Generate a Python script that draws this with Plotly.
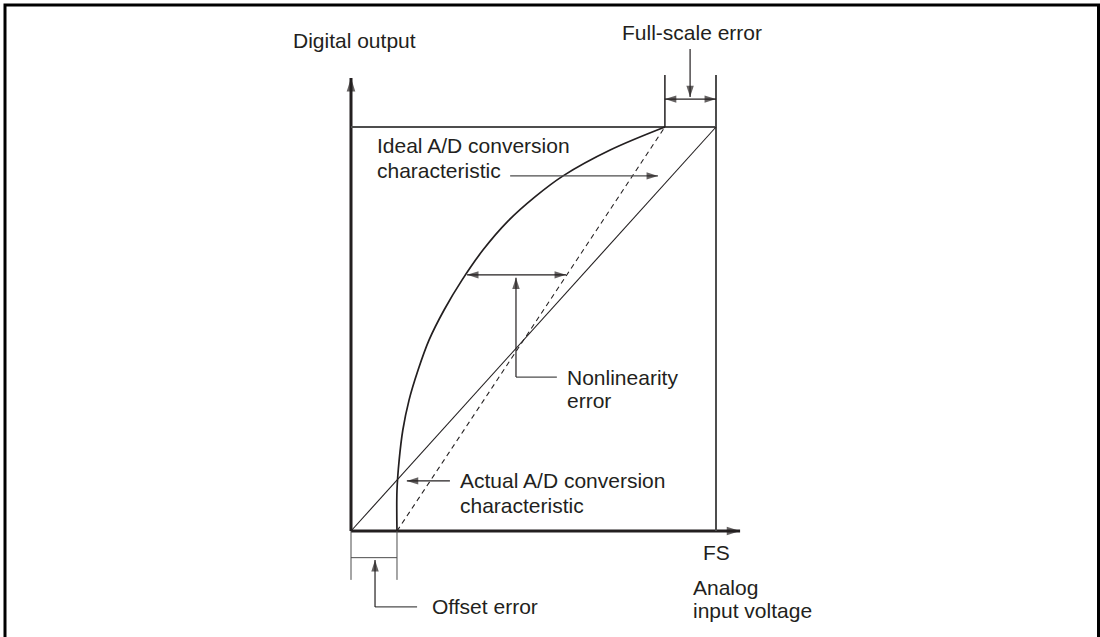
import plotly.graph_objects as go

# ---- characteristic data (x: analog input / FS, y: digital output / full code) ----
FS = 1.0
offset_error = 0.126          # input where the actual characteristic leaves zero
fs_reached = 0.860            # input where the actual characteristic reaches full code

ideal_x = [0.0, FS]
ideal_y = [0.0, 1.0]

fit_x = [offset_error, fs_reached]
fit_y = [0.0, 1.0]

actual_x = [0.126, 0.126, 0.132, 0.142, 0.159, 0.184, 0.214, 0.255, 0.304,
            0.362, 0.430, 0.504, 0.581, 0.710, 0.860]
actual_y = [0.000, 0.101, 0.176, 0.250, 0.324, 0.399, 0.473, 0.547, 0.621,
            0.696, 0.767, 0.827, 0.879, 0.943, 1.000]

# ---- page geometry ----
W, H = 1100, 637
X0_PX, XFS_PX = 351, 716
Y0_PX, YFS_PX = 531, 127
sx = XFS_PX - X0_PX
sy = Y0_PX - YFS_PX
x_range = [-X0_PX / sx, (W - X0_PX) / sx]
y_range = [-(H - Y0_PX) / sy, Y0_PX / sy]

INK = "#231f20"
GREY = "#4d4d4d"
FONT = dict(family="Liberation Sans, Arial, Helvetica, sans-serif", size=21, color=INK)

fig = go.Figure()

def seg(xs, ys, width=1.0, color=INK, dash=None):
    fig.add_trace(go.Scatter(x=xs, y=ys, mode="lines", hoverinfo="skip",
                             line=dict(color=color, width=width, dash=dash,
                                       shape="linear")))

heads_x, heads_y, heads_ang, heads_size = [], [], [], []

def arrow(x0, y0, x1, y1, width=1.0, color=INK, size=12, both=False):
    """Line from (x0, y0) to (x1, y1) with an arrowhead at the second point."""
    seg([x0, x1], [y0, y1], width=width, color=color)
    ends = [(x1, y1, x0, y0)]
    if both:
        ends.append((x0, y0, x1, y1))
    for tx, ty, fx, fy in ends:
        if abs(tx - fx) > abs(ty - fy):
            ang = 90 if tx > fx else 270
        else:
            ang = 0 if ty > fy else 180
        heads_x.append(tx)
        heads_y.append(ty)
        heads_ang.append(ang)
        heads_size.append(size)

def label(x, y, lines, xanchor="left", dy=0.058):
    for i, t in enumerate(lines):
        fig.add_annotation(x=x, y=y - i * dy, text=t, showarrow=False,
                           xanchor=xanchor, yanchor="middle", font=FONT)

# axes with arrows
arrow(0, 0, 0, 1.121, width=3, size=14)
arrow(0, 0, 1.066, 0, width=3, size=14)

# full-code box
seg([0, FS], [1, 1], width=2, color=GREY)
seg([FS, FS], [0, 1.129], width=2, color=GREY)
seg([fs_reached, fs_reached], [1, 1.129], width=1.5, color=INK)

# characteristics
seg(ideal_x, ideal_y, width=1.1)
seg(fit_x, fit_y, width=1.1, dash="5px,4px")
fig.add_trace(go.Scatter(x=actual_x, y=actual_y, mode="lines", hoverinfo="skip",
                         line=dict(color=INK, width=1.7, shape="spline", smoothing=1)))

# full-scale error
arrow(fs_reached, 1.069, FS, 1.069, width=1.2, size=12, both=True)
arrow(0.929, 1.193, 0.929, 1.074, width=1.2, size=12)
label(0.934, 1.233, ["Full-scale error"], xanchor="center")

# offset error
seg([0, 0], [0, -0.121], width=1, color=GREY)
seg([offset_error, offset_error], [0, -0.121], width=1, color=GREY)
seg([0, offset_error], [-0.066, -0.066], width=1, color=GREY)
seg([0.0658, 0.181], [-0.188, -0.188], width=1.2, color=GREY)
arrow(0.0658, -0.188, 0.0658, -0.072, width=1.2, size=12)
label(0.216, -0.188, ["Offset error"])

# ideal characteristic pointer
arrow(0.436, 0.879, 0.841, 0.879, width=1.2, color=GREY, size=12)
label(0.0658, 0.955, ["Ideal A/D conversion", "characteristic"], dy=0.062)

# nonlinearity error
arrow(0.318, 0.634, 0.589, 0.634, width=1.2, size=12, both=True)
seg([0.452, 0.564], [0.381, 0.381], width=1.2, color=GREY)
arrow(0.452, 0.381, 0.452, 0.627, width=1.2, size=12)
label(0.586, 0.381, ["Nonlinearity", "error"])

# actual characteristic pointer
arrow(0.271, 0.124, 0.153, 0.124, width=1.2, size=12)
label(0.293, 0.124, ["Actual A/D conversion", "characteristic"], dy=0.060)

# axis titles
label(-0.164, 1.213, ["Digital output"])
label(FS, -0.054, ["FS"], xanchor="center")
label(0.931, -0.140, ["Analog", "input voltage"], dy=0.057)

# arrowheads
fig.add_trace(go.Scatter(x=heads_x, y=heads_y, mode="markers", hoverinfo="skip",
                         marker=dict(symbol="arrow", size=heads_size, angle=heads_ang,
                                     color=INK, line=dict(width=0))))

# outer frame
fig.add_shape(type="path", xref="paper", yref="paper",
              path=f"M {5/W},-0.02 L {5/W},{1-5/H} L {1098.5/W},{1-5/H} L {1098.5/W},-0.02",
              line=dict(color="black", width=3))

fig.update_layout(
    width=W, height=H, margin=dict(l=0, r=0, t=0, b=0),
    paper_bgcolor="white", plot_bgcolor="white", showlegend=False,
    xaxis=dict(range=x_range, visible=False, fixedrange=True),
    yaxis=dict(range=y_range, visible=False, fixedrange=True),
)

fig.write_html("out.html")
